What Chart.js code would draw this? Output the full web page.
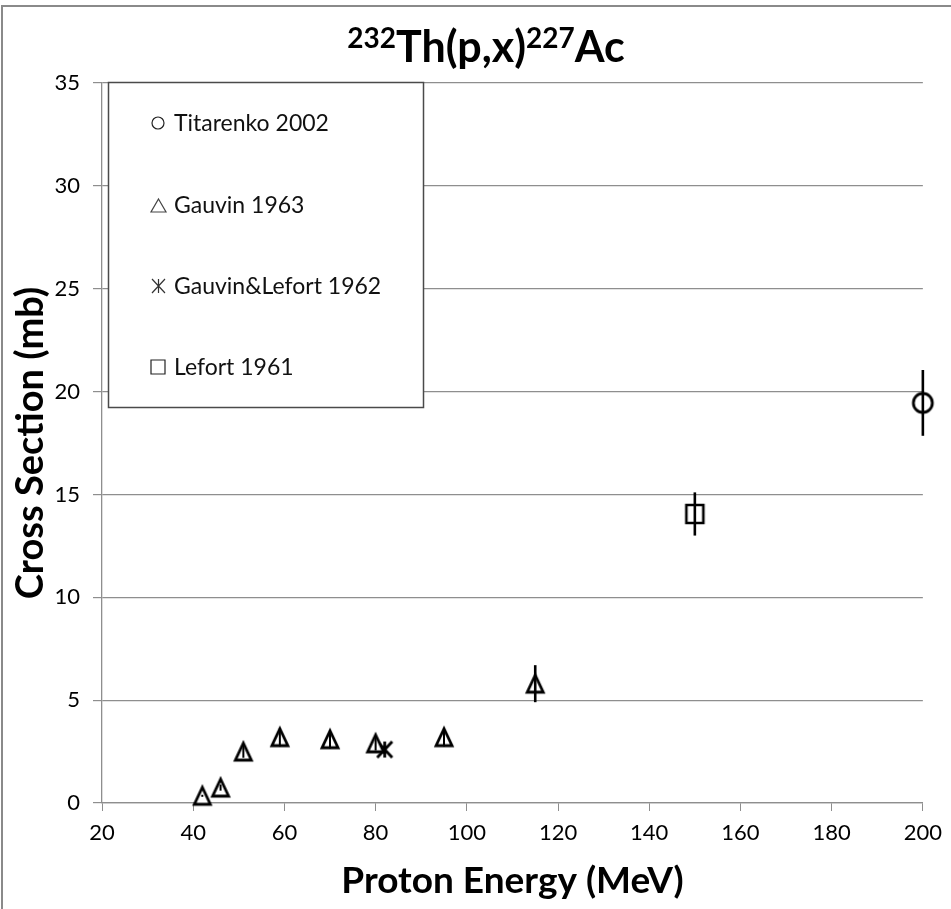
<!DOCTYPE html>
<html><head><meta charset="utf-8">
<script src="https://cdn.jsdelivr.net/npm/chart.js@4.4.0/dist/chart.umd.min.js"></script>
<style>html,body{margin:0;padding:0;background:#fff;}#wrap{width:951px;height:909px;}</style>
</head><body><div id="wrap"><canvas id="c" width="951" height="909"></canvas></div>
<script>
// ---- data ----
const titleParts = [["232", true], ["Th(p,x)", false], ["227", true], ["Ac", false]];
const xAxisTitle = "Proton Energy (MeV)";
const yAxisTitle = "Cross Section (mb)";
const seriesNames = ["Titarenko 2002", "Gauvin 1963", "Gauvin&Lefort 1962", "Lefort 1961"];
const xTicksMinMaxStep = [20, 200, 20];
const yTicksMinMaxStep = [0, 35, 5];

const titarenkoX = [200];
const titarenkoY = [19.45];
const titarenkoErr = [1.6];

const gauvin1963X = [42, 46, 51, 59, 70, 80, 95, 115];
const gauvin1963Y = [0.35, 0.75, 2.5, 3.2, 3.1, 2.9, 3.2, 5.8];
const gauvin1963Err = [0.05, 0.15, 0.3, 0.45, 0.45, 0.35, 0.45, 0.9];

const gauvinLefortX = [82];
const gauvinLefortY = [2.6];
const gauvinLefortErr = [0];

const lefortX = [150];
const lefortY = [14.05];
const lefortErr = [1.05];

// ---- marker images ----
function makeMarker(kind, w, h, lw, color) {
  const pad = Math.ceil(lw) + 1;
  const cv = document.createElement('canvas');
  cv.width = w + 2 * pad; cv.height = h + 2 * pad;
  const g = cv.getContext('2d');
  g.strokeStyle = color; g.fillStyle = '#fff'; g.lineWidth = lw; g.lineJoin = 'miter';
  const x0 = pad, y0 = pad, cx = pad + w / 2, cy = pad + h / 2;
  g.beginPath();
  if (kind === 'triangle') {
    g.moveTo(cx, y0); g.lineTo(x0 + w, y0 + h); g.lineTo(x0, y0 + h); g.closePath();
    g.fill(); g.stroke();
  } else if (kind === 'square') {
    g.rect(x0, y0, w, h); g.fill(); g.stroke();
  } else if (kind === 'circle') {
    g.ellipse(cx, cy, w / 2, h / 2, 0, 0, Math.PI * 2); g.fill(); g.stroke();
  } else if (kind === 'asterisk') {
    g.moveTo(x0, y0); g.lineTo(x0 + w, y0 + h);
    g.moveTo(x0 + w, y0); g.lineTo(x0, y0 + h);
    g.moveTo(cx, y0); g.lineTo(cx, y0 + h);
    g.stroke();
  }
  return cv;
}
const mk = {
  circle: makeMarker('circle', 19, 19, 2.8, '#000'),
  triangle: makeMarker('triangle', 16, 17, 2.8, '#000'),
  asterisk: makeMarker('asterisk', 15, 16, 2.8, '#000'),
  square: makeMarker('square', 17, 18, 2.6, '#000')
};
const lg = {
  circle: makeMarker('circle', 12, 12, 1.2, '#222'),
  triangle: makeMarker('triangle', 15, 13, 1.2, '#444'),
  asterisk: makeMarker('asterisk', 13, 14, 1.2, '#333'),
  square: makeMarker('square', 14, 14, 1.2, '#222')
};

function pts(xs, ys) { return xs.map((x, i) => ({ x: x, y: ys[i] })); }

const FONT = 'Lato, "Open Sans", sans-serif';
const GRID = '#8e8e8e';

const errorBars = {
  id: 'errorBars',
  afterDatasetsDraw(chart) {
    const ctx = chart.ctx, ys = chart.scales.y;
    ctx.save();
    ctx.strokeStyle = '#000';
    chart.data.datasets.forEach((ds, di) => {
      const meta = chart.getDatasetMeta(di);
      (ds.errors || []).forEach((e, i) => {
        if (!e) return;
        const el = meta.data[i];
        const v = ds.data[i].y;
        ctx.lineWidth = e > 0.6 ? 2.6 : 2;
        ctx.beginPath();
        ctx.moveTo(el.x, ys.getPixelForValue(v + e));
        ctx.lineTo(el.x, ys.getPixelForValue(v - e));
        ctx.stroke();
      });
    });
    ctx.restore();
  }
};

const frameAndLegend = {
  id: 'frameAndLegend',
  beforeDraw(chart) {
    const ctx = chart.ctx;
    ctx.save();
    ctx.strokeStyle = '#8a8a8a'; ctx.lineWidth = 2;
    ctx.strokeRect(2, 6, 1200, 1200);
    ctx.restore();
  },
  beforeDatasetsDraw(chart) {
    const ctx = chart.ctx, a = chart.chartArea;
    const bx = a.left + 6, by = a.top - 1, bw = 315, bh = 325;
    ctx.save();
    ctx.fillStyle = '#fff';
    ctx.fillRect(bx, by, bw, bh);
    ctx.strokeStyle = '#4a4a4a'; ctx.lineWidth = 1.5;
    ctx.strokeRect(bx + 0.5, by + 0.5, bw, bh);
    const icons = [lg.circle, lg.triangle, lg.asterisk, lg.square];
    const rowsY = [123, 205, 286, 367];
    ctx.font = '23px ' + FONT;
    ctx.fillStyle = '#111';
    ctx.textBaseline = 'middle';
    ctx.textAlign = 'left';
    seriesNames.forEach((n, i) => {
      const im = icons[i];
      ctx.drawImage(im, Math.round(158 - im.width / 2), Math.round(rowsY[i] - im.height / 2));
      ctx.fillText(n, 174, rowsY[i] + 1);
    });
    ctx.restore();
  },
  afterDraw(chart) {
    const ctx = chart.ctx;
    ctx.save();
    ctx.fillStyle = '#000';
    ctx.textBaseline = 'alphabetic';
    const big = 'bold 43px ' + FONT, small = 'bold 28px ' + FONT;
    let total = 0;
    titleParts.forEach(([t, sup]) => { ctx.font = sup ? small : big; total += ctx.measureText(t).width; });
    let x = 486 - total / 2;
    const base = 62;
    titleParts.forEach(([t, sup]) => {
      ctx.font = sup ? small : big;
      ctx.fillText(t, x, sup ? base - 14 : base);
      x += ctx.measureText(t).width;
    });
    ctx.restore();
  }
};

new Chart(document.getElementById('c'), {
  type: 'scatter',
  data: {
    datasets: [
      { label: seriesNames[0], data: pts(titarenkoX, titarenkoY), errors: titarenkoErr, pointStyle: mk.circle, pointRadius: 10 },
      { label: seriesNames[1], data: pts(gauvin1963X, gauvin1963Y), errors: gauvin1963Err, pointStyle: mk.triangle, pointRadius: 10 },
      { label: seriesNames[2], data: pts(gauvinLefortX, gauvinLefortY), errors: gauvinLefortErr, pointStyle: mk.asterisk, pointRadius: 10 },
      { label: seriesNames[3], data: pts(lefortX, lefortY), errors: lefortErr, pointStyle: mk.square, pointRadius: 10 }
    ]
  },
  options: {
    responsive: false,
    animation: false,
    devicePixelRatio: 1,
    clip: false,
    layout: { padding: { top: 83, right: 28, left: 0, bottom: 0 } },
    plugins: { legend: { display: false }, title: { display: false }, tooltip: { enabled: false } },
    scales: {
      x: {
        type: 'linear', min: xTicksMinMaxStep[0], max: xTicksMinMaxStep[1],
        afterFit(s) { s.height = 106; },
        ticks: { stepSize: xTicksMinMaxStep[2], color: '#000', font: { family: FONT, size: 22 }, padding: 9 },
        grid: { drawOnChartArea: false, drawTicks: true, tickLength: 8, color: GRID },
        border: { display: true, color: GRID, width: 1.3 },
        title: { display: true, text: xAxisTitle, color: '#000', font: { family: FONT, size: 37, weight: 'bold' }, padding: { top: 0, bottom: 6 } }
      },
      y: {
        type: 'linear', min: yTicksMinMaxStep[0], max: yTicksMinMaxStep[1],
        afterFit(s) { s.width = 102; },
        ticks: { stepSize: yTicksMinMaxStep[2], color: '#000', font: { family: FONT, size: 22 }, padding: 13 },
        grid: { drawOnChartArea: true, drawTicks: true, tickLength: 9, color: GRID, lineWidth: 1.2 },
        border: { display: true, color: GRID, width: 1.3 },
        title: { display: true, text: yAxisTitle, color: '#000', font: { family: FONT, size: 38, weight: 'bold' }, padding: { top: 8, bottom: 0 } }
      }
    }
  },
  plugins: [errorBars, frameAndLegend]
});
</script>
</body></html>
